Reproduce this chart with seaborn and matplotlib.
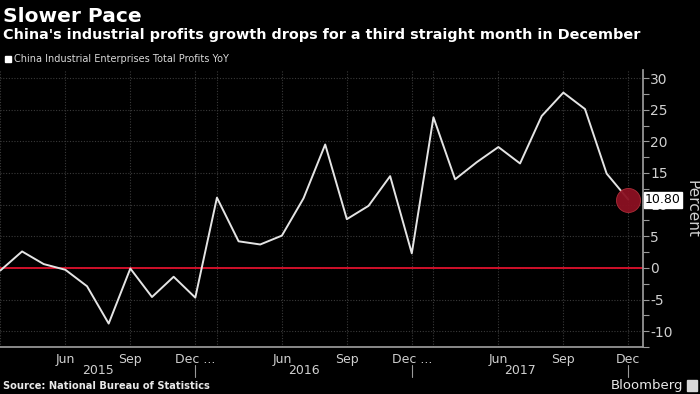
import matplotlib
matplotlib.use("Agg")
import matplotlib.pyplot as plt
import matplotlib.transforms as mtransforms
from matplotlib.patches import Rectangle
import pandas as pd
import seaborn as sns

# China industrial profits YoY, monthly (Jan-Feb combined releases are skipped)
months = [
    "Mar 2015", "Apr 2015", "May 2015", "Jun 2015", "Jul 2015", "Aug 2015",
    "Sep 2015", "Oct 2015", "Nov 2015", "Dec 2015",
    "Mar 2016", "Apr 2016", "May 2016", "Jun 2016", "Jul 2016", "Aug 2016",
    "Sep 2016", "Oct 2016", "Nov 2016", "Dec 2016",
    "Mar 2017", "Apr 2017", "May 2017", "Jun 2017", "Jul 2017", "Aug 2017",
    "Sep 2017", "Oct 2017", "Nov 2017", "Dec 2017",
]
profits_yoy = [
    -0.4, 2.6, 0.6, -0.3, -2.9, -8.8, -0.1, -4.6, -1.4, -4.7,
    11.1, 4.2, 3.7, 5.1, 11.0, 19.5, 7.7, 9.8, 14.5, 2.3,
    23.8, 14.0, 16.7, 19.1, 16.5, 24.0, 27.7, 25.1, 14.9, 10.8,
]
tick_months = ["Jun 2015", "Sep 2015", "Dec 2015", "Jun 2016", "Sep 2016",
               "Dec 2016", "Jun 2017", "Sep 2017", "Dec 2017"]
tick_labels = ["Jun", "Sep", "Dec ...", "Jun", "Sep", "Dec ...", "Jun", "Sep", "Dec"]
grid_months = ["Mar 2015", "Jun 2015", "Sep 2015", "Dec 2015", "Mar 2016", "Jun 2016",
               "Sep 2016", "Dec 2016", "Mar 2017", "Jun 2017", "Sep 2017", "Dec 2017"]
years = ["2015", "2016", "2017"]
y_ticks = [30, 25, 20, 15, 10, 5, 0, -5, -10]

df = pd.DataFrame({"month": months, "value": profits_yoy})
df["idx"] = range(len(df))
pos = dict(zip(df["month"], df["idx"]))

sns.set_theme(style="dark", rc={
    "figure.facecolor": "black", "axes.facecolor": "black",
    "axes.edgecolor": "#9a9a9a", "text.color": "#e8e8e8",
    "xtick.color": "#9a9a9a", "ytick.color": "#9a9a9a",
})
plt.rcParams["font.family"] = ["DejaVu Sans"]

fig = plt.figure(figsize=(7, 3.94), dpi=100)
ax = fig.add_axes([0.0, 0.1193, 0.9186, 0.7035])

# grid
for m in grid_months:
    ax.axvline(pos[m], color="#3a3a3a", lw=0.8, ls=(0, (1, 1.5)), zorder=0)
for v in y_ticks:
    ax.axhline(v, color="#3a3a3a", lw=0.8, ls=(0, (1, 1.5)), zorder=0)

ax.axhline(0, color="#d0102a", lw=1.4, zorder=2)
sns.lineplot(data=df, x="idx", y="value", ax=ax, color="#e4e4e4", lw=1.4, zorder=3)

last = df.iloc[[-1]]
sns.scatterplot(data=last, x="idx", y="value", ax=ax, s=300, color="#8c1022",
                edgecolor="#b0303a", linewidth=0.6, alpha=0.95, zorder=4, legend=False)

ax.set_xlim(-0.02, 29.68)
ax.set_ylim(-12.4, 31.3)

ax.set_xticks([pos[m] for m in tick_months])
ax.set_xticklabels(tick_labels, fontsize=9, color="#d0d0d0")
ax.set_xticks(df["idx"], minor=True)
ax.tick_params(axis="x", which="both", length=3, width=0.8, pad=1, direction="out")

ax.yaxis.tick_right()
ax.set_yticks(y_ticks)
ax.set_yticklabels([str(v) for v in y_ticks], fontsize=10, color="#d0d0d0")
ax.set_yticks([v + 2.5 for v in y_ticks[1:]] + [-12.5 + 0.0], minor=True)
ax.tick_params(axis="y", which="both", length=4, width=0.8, pad=1, direction="out",
               left=False, right=True)
ax.set_xlabel("")
ax.set_ylabel("")

for side in ["top", "left"]:
    ax.spines[side].set_visible(False)
ax.spines["bottom"].set_color("#9a9a9a")
ax.spines["right"].set_color("#9a9a9a")

# year labels and separators
trans = mtransforms.blended_transform_factory(ax.transData, ax.transAxes)
dec_idx = [pos["Dec 2015"], pos["Dec 2016"], pos["Dec 2017"]]
starts = [0] + dec_idx[:-1]
for yr, a, b in zip(years, starts, dec_idx):
    ax.text((a + b) / 2, -0.083, yr, transform=trans, ha="center", va="center",
            fontsize=9, color="#d0d0d0")
for d in dec_idx:
    ax.plot([d, d], [-0.065, -0.107], transform=trans, color="#9a9a9a", lw=0.8,
            clip_on=False)

# last value label
trans_y = mtransforms.blended_transform_factory(ax.transAxes, ax.transData)
ax.annotate("10.80", xy=(1.0, 10.8), xycoords=trans_y, xytext=(1.5, 0),
            textcoords="offset points", ha="left", va="center", fontsize=9,
            color="black", annotation_clip=False, zorder=6,
            bbox=dict(boxstyle="square,pad=0.12", fc="white", ec="white"))

fig.text(0.988, 1 - 209 / 394, "Percent", rotation=270, ha="center", va="center",
         fontsize=11, color="#d0d0d0")

# titles
fig.text(0.004, 1 - 21.7 / 394, "Slower Pace", fontsize=14.5, fontweight="bold",
         color="white", ha="left", va="baseline")
fig.text(0.004, 1 - 38.5 / 394,
         "China's industrial profits growth drops for a third straight month in December",
         fontsize=10.4, fontweight="bold", color="white", ha="left", va="baseline")
fig.patches.append(Rectangle((5 / 700, 1 - 62 / 394), 6 / 700, 6 / 394, color="white",
                             transform=fig.transFigure, figure=fig))
fig.text(14 / 700, 1 - 59 / 394, "China Industrial Enterprises Total Profits YoY",
         fontsize=7, color="#d8d8d8", ha="left", va="center")

fig.text(0.004, 1 - 386 / 394, "Source: National Bureau of Statistics", fontsize=7.1,
         fontweight="bold", color="#e8e8e8", ha="left", va="center")
fig.text(683 / 700, 1 - 385 / 394, "Bloomberg", fontsize=9.5, color="#e8e8e8",
         ha="right", va="center")
fig.patches.append(Rectangle((687 / 700, 1 - 391 / 394), 10 / 700, 11 / 394,
                             color="#d8d8d8", transform=fig.transFigure, figure=fig))

fig.savefig("out.png", dpi=100, facecolor="black")
